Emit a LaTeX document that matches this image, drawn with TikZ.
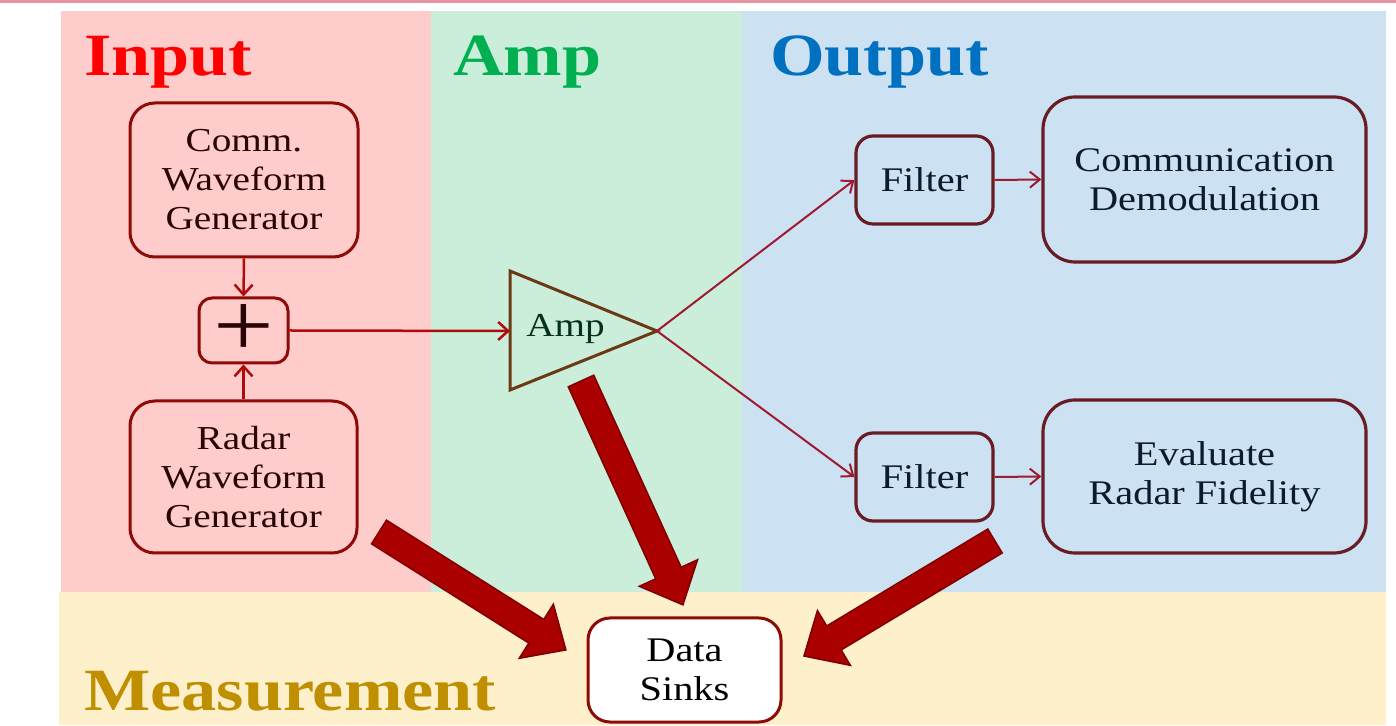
\documentclass[tikz,border=0pt]{standalone}
\usepackage{fontspec}
\setmainfont{Liberation Serif}[FakeStretch=1.17]
\usetikzlibrary{arrows.meta}
\definecolor{inbg}{HTML}{FFCCCC}
\definecolor{ampbg}{HTML}{CBEEDA}
\definecolor{outbg}{HTML}{CCE1F2}
\definecolor{measbg}{HTML}{FFF0CC}
\definecolor{topline}{HTML}{E8919F}
\definecolor{inborder}{HTML}{8E0A05}
\definecolor{inarrow}{HTML}{B00A0A}
\definecolor{intext}{HTML}{2A0505}
\definecolor{ampcol}{HTML}{6B3A14}
\definecolor{amptext}{HTML}{06301E}
\definecolor{outline}{HTML}{9E1A2E}
\definecolor{outborder}{HTML}{6A1C24}
\definecolor{outtext}{HTML}{0B1A2C}
\definecolor{fatfill}{HTML}{AA0000}
\definecolor{fatdraw}{HTML}{7E0000}
\definecolor{titlered}{HTML}{FF0000}
\definecolor{titlegreen}{HTML}{00B050}
\definecolor{titleblue}{HTML}{0070C0}
\definecolor{titlegold}{HTML}{BF8F00}
\newcommand\fatarrowat[4]{%
  \begin{scope}[shift={(#1,#2)},rotate=#3]
    \draw[fatarrow] (0,-14) -- (#4-35,-14) -- (#4-35,-32) -- (#4,0) -- (#4-35,32) -- (#4-35,14) -- (0,14) -- cycle;
  \end{scope}}
\begin{document}
\begin{tikzpicture}[x=1pt,y=1pt,
  bodyfont/.style={font=\fontsize{33.5}{39}\selectfont},
  outfont/.style={font=\fontsize{34.5}{39}\selectfont},
  inbox/.style={draw=inborder, line width=3pt, rounded corners=25pt, text=intext, align=center, inner sep=0pt, bodyfont},
  outbox/.style={draw=outborder, line width=3.2pt, text=outtext, align=center, inner sep=0pt, outfont},
  title/.style={anchor=base west, inner sep=0pt, font=\bfseries\fontsize{60}{60}\selectfont},
  smallarrow/.style={draw=inarrow, line width=2.5pt, -{Straight Barb[length=10pt,width=18pt,line width=2.5pt]}},
  outarrow/.style={draw=outline, line width=2pt, -{Straight Barb[length=10pt,width=16pt,line width=2pt]}},
  fatarrow/.style={fill=fatfill, draw=fatdraw, line width=1.5pt, line join=miter}
]
\useasboundingbox (0,0) rectangle (1396,725);
% backgrounds
\fill[white] (0,0) rectangle (1396,725);
\fill[topline] (0,722) rectangle (1396,725);
\fill[measbg] (59,0) rectangle (1386,133);
\fill[inbg] (61,133) rectangle (431,714);
\fill[ampbg] (431,133) rectangle (742,714);
\fill[outbg] (742,133) rectangle (1386,714);
% titles
\node[title, text=titlered] (tin) at (84,649) {Input};
\node[title, text=titlegreen] (tamp) at (453,649) {Amp};
\node[title, text=titleblue] (tout) at (770,649) {Output};
\node[title, text=titlegold] (tmeas) at (84,15) {Measurement};
% input boxes
\node[inbox, minimum width=228, minimum height=154] (comm) at (244,545) {Comm.\\Waveform\\Generator};
\node[inbox, minimum width=227, minimum height=152] (radar) at (243.5,248) {Radar\\Waveform\\Generator};
\node[inbox, minimum width=89, minimum height=65, rounded corners=13pt, font=\fontsize{92}{92}\selectfont] (plus) at (243.5,394.5) {+};
% amplifier
\coordinate (ampin) at (510,394);
\coordinate (amptip) at (657,394);
\draw[ampcol, line width=3pt, line join=miter] (510,454) -- (amptip) -- (510,335) -- cycle;
\node[anchor=base, inner sep=0pt, text=amptext, bodyfont] (amplabel) at (565.5,388) {Amp};
% output boxes
\node[outbox, minimum width=137, minimum height=88, rounded corners=17pt] (filt1) at (924.5,545) {Filter};
\node[outbox, minimum width=137, minimum height=88, rounded corners=17pt] (filt2) at (924.5,248) {Filter};
\node[outbox, minimum width=323, minimum height=165, rounded corners=32pt] (demod) at (1204.5,545.5) {Communication\\Demodulation};
\node[outbox, minimum width=323, minimum height=153, rounded corners=32pt] (eval) at (1204.5,248.5) {Evaluate\\Radar Fidelity};
% data sinks
\node[draw=inborder, fill=white, line width=3pt, rounded corners=22pt, minimum width=193, minimum height=104, align=center, inner sep=0pt, outfont] (sinks) at (684.5,55) {Data\\Sinks};
% connectors
\draw[smallarrow] (comm.south) -- (plus.north);
\draw[smallarrow] (radar.north) -- (plus.south);
\draw[smallarrow] (plus.east) -- (ampin);
\draw[outarrow] (amptip) -- (filt1.west);
\draw[outarrow] (amptip) -- (filt2.west);
\draw[outarrow] (filt1.east) -- (demod.west);
\draw[outarrow] (filt2.east) -- (eval.west);
% fat arrows
\fatarrowat{379}{193}{-32.25}{221}
\fatarrowat{581}{344}{-65.52}{246}
\fatarrowat{995}{184}{211.05}{223}
\end{tikzpicture}
\end{document}
